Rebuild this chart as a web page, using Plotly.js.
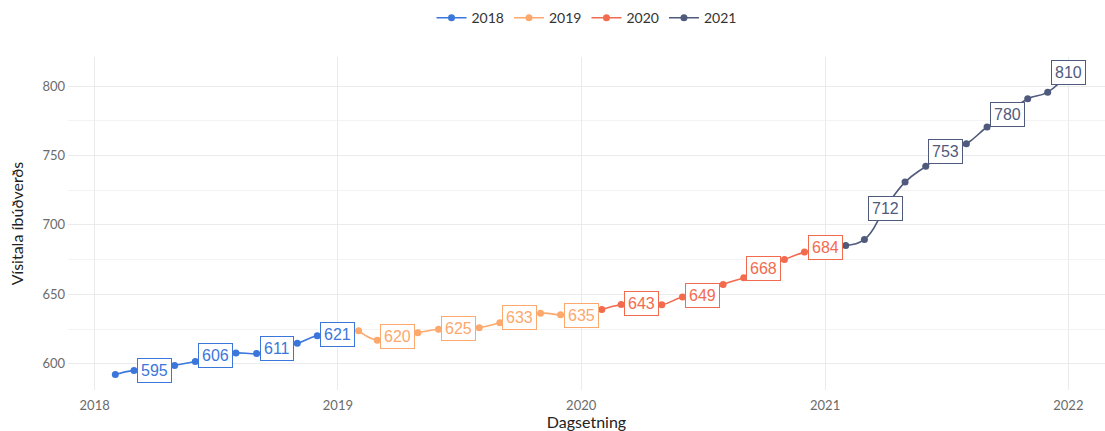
<!DOCTYPE html>
<html>
<head>
<meta charset="utf-8">
<script src="https://cdn.plot.ly/plotly-3.0.1.min.js"></script>
<style>html,body{margin:0;padding:0;background:#fff;}#chart{width:1105px;height:431px;}</style>
</head>
<body>
<div id="chart"></div>
<script>
// Series names (years) and colours
const years = ["2018", "2019", "2020", "2021"];
const colors = ["#3b77db", "#fda86c", "#f36b4f", "#4f5a7c"];

// Monthly dates for each series
const dates2018 = ["2018-02-01","2018-03-01","2018-04-01","2018-05-01","2018-06-01","2018-07-01","2018-08-01","2018-09-01","2018-10-01","2018-11-01","2018-12-01","2019-01-01"];
const dates2019 = ["2019-02-01","2019-03-01","2019-04-01","2019-05-01","2019-06-01","2019-07-01","2019-08-01","2019-09-01","2019-10-01","2019-11-01","2019-12-01","2020-01-01"];
const dates2020 = ["2020-02-01","2020-03-01","2020-04-01","2020-05-01","2020-06-01","2020-07-01","2020-08-01","2020-09-01","2020-10-01","2020-11-01","2020-12-01","2021-01-01"];
const dates2021 = ["2021-02-01","2021-03-01","2021-04-01","2021-05-01","2021-06-01","2021-07-01","2021-08-01","2021-09-01","2021-10-01","2021-11-01","2021-12-01","2022-01-01"];

// Index values (Vísitala íbúðverðs)
const values2018 = [592.2, 595.2, 594.8, 598.8, 601.6, 606.0, 607.8, 607.4, 611.0, 614.7, 620.2, 621.1];
const values2019 = [623.8, 617.0, 619.9, 622.3, 624.8, 625.3, 626.0, 629.5, 633.2, 636.4, 635.2, 635.0];
const values2020 = [639.0, 642.6, 643.2, 642.5, 648.1, 649.3, 657.0, 662.0, 668.3, 675.0, 680.4, 683.8];
const values2021 = [685.2, 689.5, 711.8, 730.8, 742.2, 752.6, 758.4, 770.5, 779.6, 790.8, 795.6, 809.6];

// Which points get a value label (every third month)
const labelIdx = [2, 5, 8, 11];

const allDates = [dates2018, dates2019, dates2020, dates2021];
const allValues = [values2018, values2019, values2020, values2021];

const traces = [];
const annotations = [];
years.forEach((yr, i) => {
  traces.push({
    type: "scatter",
    mode: "lines+markers",
    name: yr,
    x: allDates[i],
    y: allValues[i],
    line: {color: colors[i], width: 1.6, shape: "spline", smoothing: 1.3},
    marker: {color: colors[i], size: 7},
    hoverinfo: "x+y"
  });
  labelIdx.forEach(k => {
    annotations.push({
      x: allDates[i][k], y: allValues[i][k], xref: "x", yref: "y",
      text: String(Math.round(allValues[i][k])),
      showarrow: false,
      font: {family: "Liberation Sans, Arial, sans-serif", size: 16, color: colors[i]},
      bgcolor: "#ffffff",
      bordercolor: colors[i],
      borderwidth: 1,
      borderpad: 3,
      xanchor: "center", yanchor: "middle"
    });
  });
});

const layout = {
  width: 1105, height: 431,
  margin: {l: 68, r: 0, t: 57, b: 41},
  paper_bgcolor: "#ffffff",
  plot_bgcolor: "#ffffff",
  font: {family: "Lato, sans-serif", color: "#333"},
  showlegend: true,
  legend: {orientation: "h", x: 0.5, xanchor: "center", y: 0.995, yref: "container", yanchor: "top",
           font: {size: 14, color: "#333"}, itemwidth: 30},
  xaxis: {
    type: "date",
    range: ["2017-11-22", "2022-02-25"],
    tick0: "2018-01-01", dtick: "M12", tickformat: "%Y",
    showgrid: true, gridcolor: "#ebebeb", gridwidth: 1,
    zeroline: false, showline: false, ticks: "",
    ticklabelstandoff: 6,
    tickfont: {size: 13, color: "#6b6b6b"},
    title: {text: "Dagsetning", font: {size: 16, color: "#222"}, standoff: 6}
  },
  yaxis: {
    range: [581.1, 820.9],
    tick0: 600, dtick: 50,
    showgrid: true, gridcolor: "#ebebeb", gridwidth: 1,
    minor: {tick0: 625, dtick: 50, showgrid: true, gridcolor: "#f3f3f3", gridwidth: 1},
    zeroline: false, showline: false, ticks: "",
    ticklabelstandoff: 2,
    tickfont: {size: 13, color: "#6b6b6b"},
    title: {text: "Vísitala íbúðverðs", font: {size: 16, color: "#222"}, standoff: 14}
  },
  annotations: annotations
};

Plotly.newPlot("chart", traces, layout, {displayModeBar: false, staticPlot: true});
</script>
</body>
</html>
